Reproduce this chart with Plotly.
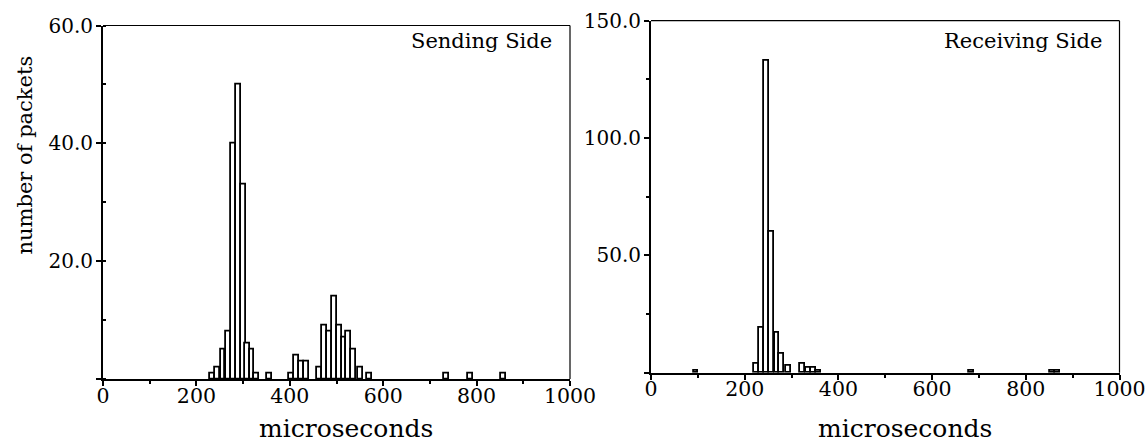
import plotly.graph_objects as go

# Packet inter-arrival histograms (bin centre in microseconds, packet count)
send_bins = [235, 246, 257, 268, 279, 290, 300, 310, 319, 328, 356,
             403, 414, 425, 435, 464, 475, 485, 496, 507, 516, 526, 537,
             551, 571, 735, 786, 857]
send_counts = [1, 2, 5, 8, 40, 50, 33, 6, 5, 1, 1,
               1, 4, 3, 3, 2, 9, 8, 14, 9, 7, 8, 5,
               2, 1, 1, 1, 1]

recv_bins = [96, 225, 235, 247, 258, 269, 279, 293, 324, 336, 347, 358,
             685, 857, 867]
recv_counts = [1, 4, 19, 133, 60, 17, 8, 3, 4, 2, 2, 1,
               1, 1, 1]

x_ticks = [0, 200, 400, 600, 800, 1000]
x_labels = ["0", "200", "400", "600", "800", "1000"]
send_yticks = [0, 20, 40, 60]
send_ylabels = ["", "20.0", "40.0", "60.0"]
recv_yticks = [0, 50, 100, 150]
recv_ylabels = ["", "50.0", "100.0", "150.0"]

W, H = 1148, 444
FONT = "DejaVu Serif"


def px(x):
    return x / W


def py(y):
    return 1 - y / H


bar_style = dict(marker=dict(color="white", line=dict(color="black", width=1.8)),
                 width=10.5, showlegend=False, hoverinfo="skip")

fig = go.Figure()
fig.add_trace(go.Bar(x=send_bins, y=send_counts, xaxis="x", yaxis="y", **bar_style))
fig.add_trace(go.Bar(x=recv_bins, y=recv_counts, xaxis="x2", yaxis="y2", **bar_style))

common_x = dict(range=[0, 1000], tickvals=x_ticks, ticktext=x_labels,
                ticks="outside", ticklen=5, tickwidth=1.5, tickcolor="black",
                minor=dict(dtick=100, tick0=0, ticks="outside", ticklen=3, tickcolor="black"),
                showline=True, linecolor="black", linewidth=2, showgrid=False,
                zeroline=False, automargin=False, ticklabelstandoff=-8,
                tickfont=dict(family=FONT, size=20.5, color="black"))
common_y = dict(ticks="outside", ticklen=5, tickwidth=1.5, tickcolor="black",
                showline=True, linecolor="black", linewidth=2, showgrid=False,
                zeroline=False, automargin=False, ticklabelstandoff=-1,
                tickfont=dict(family=FONT, size=20, color="black"))

fig.update_layout(
    width=W, height=H,
    margin=dict(l=0, r=0, t=0, b=0),
    paper_bgcolor="white", plot_bgcolor="white",
    bargap=0,
    xaxis=dict(domain=[px(103), px(570)], anchor="y", **common_x),
    yaxis=dict(domain=[py(379), py(25.5)], anchor="x", range=[0, 60],
               tickvals=send_yticks, ticktext=send_ylabels,
               minor=dict(dtick=10, tick0=0, ticks="inside", ticklen=3, tickcolor="black"),
               **common_y),
    xaxis2=dict(domain=[px(651), px(1119.5)], anchor="y2", **common_x),
    yaxis2=dict(domain=[py(372.7), py(20.7)], anchor="x2", range=[0, 150],
                tickvals=recv_yticks, ticktext=recv_ylabels,
                minor=dict(dtick=25, tick0=0, ticks="outside", ticklen=3, tickcolor="black"),
                **common_y),
)

# thin top/right frame lines closing each panel
for xr, yr in (("x", "y"), ("x2", "y2")):
    fig.add_shape(type="line", xref=f"{xr} domain", yref=f"{yr} domain",
                  x0=0, x1=1, y0=1, y1=1, line=dict(color="black", width=1.2))
    fig.add_shape(type="line", xref=f"{xr} domain", yref=f"{yr} domain",
                  x0=1, x1=1, y0=0, y1=1, line=dict(color="black", width=1.2))

text_font = dict(family=FONT, color="black")
fig.add_annotation(text="microseconds", x=px(346), y=py(428), xref="paper", yref="paper",
                   xanchor="center", yanchor="middle", showarrow=False,
                   font=dict(size=25, **text_font))
fig.add_annotation(text="microseconds", x=px(905), y=py(428), xref="paper", yref="paper",
                   xanchor="center", yanchor="middle", showarrow=False,
                   font=dict(size=25, **text_font))
fig.add_annotation(text="number of packets", x=px(25), y=py(155.5), xref="paper", yref="paper",
                   xanchor="center", yanchor="middle", textangle=-90, showarrow=False,
                   font=dict(size=21, **text_font))
fig.add_annotation(text="Sending Side", x=px(554), y=py(41), xref="paper", yref="paper",
                   xanchor="right", yanchor="middle", showarrow=False,
                   font=dict(size=21, **text_font))
fig.add_annotation(text="Receiving Side", x=px(1104), y=py(41), xref="paper", yref="paper",
                   xanchor="right", yanchor="middle", showarrow=False,
                   font=dict(size=21, **text_font))

fig.write_html("out.html")
